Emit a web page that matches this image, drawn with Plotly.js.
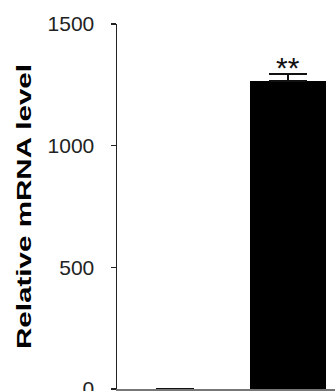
<!DOCTYPE html>
<html>
<head>
<meta charset="utf-8">
<script src="https://cdn.plot.ly/plotly-3.0.1.min.js"></script>
<style>
  html, body { margin: 0; padding: 0; background: #fff; }
  #chart { width: 335px; height: 391px; }
</style>
</head>
<body>
<div id="chart"></div>
<script>
// Data
const categories = ['Control', 'Treatment'];
const values = [1, 1265];
const errors = [1, 30];
const significance = ['', '**'];
const yTickValues = [0, 500, 1000, 1500];
const yTickLabels = ['0', '500', '1000', '1500'];
const yTitle = 'Relative mRNA level';

const trace = {
  type: 'bar',
  x: categories,
  y: values,
  width: 0.673,
  marker: { color: ['#ffffff', '#000000'], line: { width: 0 } },
  error_y: {
    type: 'data',
    symmetric: false,
    array: errors,
    arrayminus: errors.map(() => 0),
    visible: true,
    color: '#111',
    thickness: 2,
    width: 19
  },
  hoverinfo: 'none',
  showlegend: false
};

const annotations = categories.map((c, i) => ({
  x: c,
  y: values[i] + errors[i],
  xref: 'x',
  yref: 'y',
  text: significance[i],
  showarrow: false,
  yanchor: 'bottom',
  yshift: -12,
  font: { family: 'Liberation Sans, Arial, sans-serif', size: 30, color: '#111' }
})).filter(a => a.text);

const layout = {
  width: 335,
  height: 391,
  margin: { l: 117, r: 0, t: 24, b: 2, pad: 0 },
  paper_bgcolor: '#ffffff',
  plot_bgcolor: '#ffffff',
  bargap: 0,
  xaxis: {
    type: 'category',
    range: [-0.513, 1.416],
    showticklabels: false,
    ticks: '',
    showgrid: false,
    zeroline: false,
    showline: true,
    linecolor: '#777',
    linewidth: 1.5,
    fixedrange: true
  },
  yaxis: {
    range: [0, 1500],
    tickvals: yTickValues,
    ticktext: yTickLabels,
    ticks: 'outside',
    ticklen: 5,
    tickwidth: 1.5,
    tickcolor: '#222',
    ticklabelstandoff: 12,
    ticklabeloverflow: 'allow',
    showgrid: false,
    zeroline: false,
    showline: true,
    linecolor: '#222',
    linewidth: 1.5,
    tickfont: { family: 'Liberation Sans, Arial, sans-serif', size: 21, color: '#222' },
    title: {
      text: yTitle,
      standoff: 10,
      font: { family: 'Liberation Sans, Arial, sans-serif', size: 20, color: '#000', weight: 'bold' }
    },
    fixedrange: true
  },
  annotations: annotations
};

Plotly.newPlot('chart', [trace], layout, { staticPlot: true, displayModeBar: false }).then(() => {
  // The reference title glyphs are stretched along the text direction
  const t = document.querySelector('.ytitle');
  if (t) {
    const x = parseFloat(t.getAttribute('x'));
    const y = parseFloat(t.getAttribute('y'));
    t.setAttribute('transform',
      `rotate(-90,${x},${y}) translate(${x},${y}) scale(1.48,1) translate(${-x},${-y})`);
  }
});
</script>
</body>
</html>
